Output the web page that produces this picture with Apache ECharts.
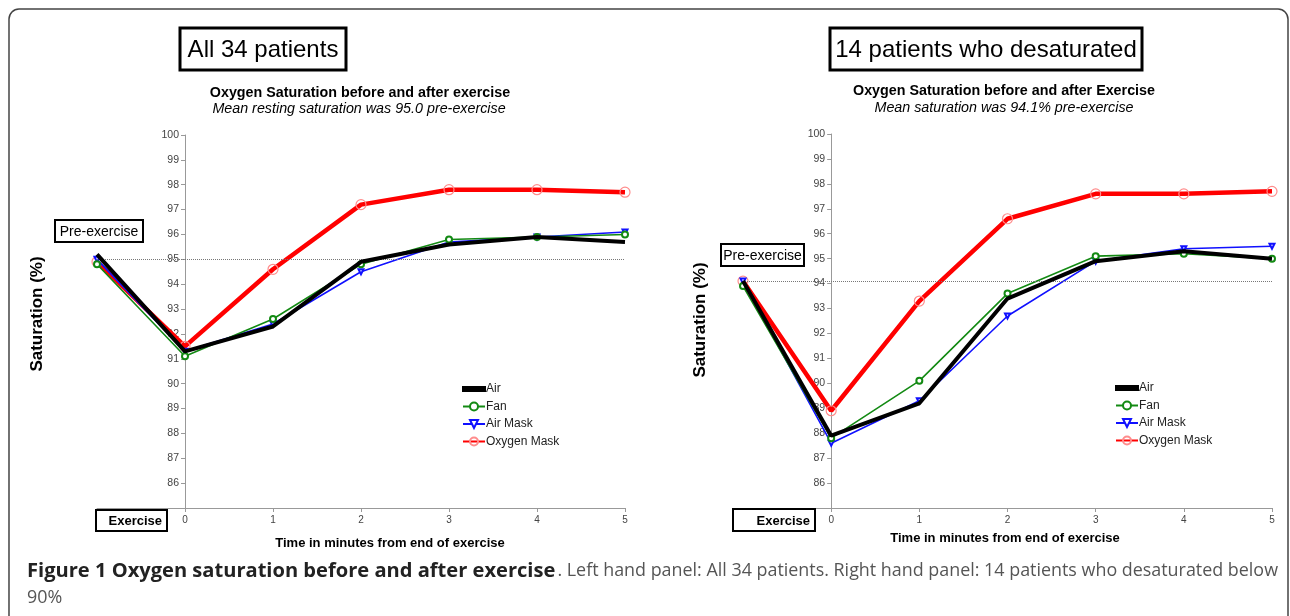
<!DOCTYPE html>
<html>
<head>
<meta charset="utf-8">
<script src="https://cdn.jsdelivr.net/npm/echarts@6/dist/echarts.min.js"></script>
<style>
  html, body { margin: 0; padding: 0; background: #fff; }
  #chart { width: 1290px; height: 616px; }
</style>
</head>
<body>
<div id="chart"></div>
<script>
// Minutes from end of exercise; -1 stands for the pre-exercise reading
const minutes = [-1, 0, 1, 2, 3, 4, 5];
const xTickValues = [0, 1, 2, 3, 4, 5];
const yTickValues = [86, 87, 88, 89, 90, 91, 92, 93, 94, 95, 96, 97, 98, 99, 100];
const seriesNames = ['Air', 'Fan', 'Air Mask', 'Oxygen Mask'];

// All 34 patients
const allAir = [95.2, 91.3, 92.3, 94.9, 95.6, 95.9, 95.7];
const allFan = [94.8, 91.1, 92.6, 94.8, 95.8, 95.9, 96.0];
const allAirMask = [95.0, 91.3, 92.4, 94.5, 95.7, 95.9, 96.1];
const allOxygenMask = [94.9, 91.5, 94.6, 97.2, 97.8, 97.8, 97.7];
const allMeanPre = 95.0;

// 14 patients who desaturated
const desatAir = [94.1, 87.9, 89.2, 93.4, 94.9, 95.3, 95.0];
const desatFan = [93.9, 87.8, 90.1, 93.6, 95.1, 95.2, 95.0];
const desatAirMask = [94.1, 87.6, 89.3, 92.7, 94.9, 95.4, 95.5];
const desatOxygenMask = [94.1, 88.9, 93.3, 96.6, 97.6, 97.6, 97.7];
const desatMeanPre = 94.1;

const FONT = '"Liberation Sans", Arial, sans-serif';
const CAPTION_FONT = '"Open Sans", sans-serif';

const grids = [
  { left: 97, top: 135, width: 528, height: 373 },
  { left: 743, top: 134, width: 529, height: 374 }
];

function pairs(values) {
  return values.map((v, i) => [minutes[i], v]);
}

const styles = {
  'Air': { color: '#000', width: 4, symbol: 'none', symbolSize: 0 },
  'Fan': { color: '#138a13', width: 1.6, symbol: 'emptyCircle', symbolSize: 6 },
  'Air Mask': { color: '#1010ff', width: 1.6, symbol: 'emptyTriangle', symbolSize: 5, rotate: 180 },
  'Oxygen Mask': { color: '#ff0000', width: 4.5, symbol: 'circle', symbolSize: 10 }
};

function makeSeries(name, values, gridIndex, meanPre) {
  const s = styles[name];
  const series = {
    name: name,
    type: 'line',
    xAxisIndex: gridIndex,
    yAxisIndex: gridIndex,
    data: pairs(values),
    symbol: s.symbol,
    symbolSize: s.symbolSize,
    symbolRotate: s.rotate || 0,
    showSymbol: s.symbol !== 'none',
    lineStyle: { color: s.color, width: s.width },
    itemStyle: name === 'Oxygen Mask'
      ? { color: 'rgba(255,255,255,0)', borderColor: '#ff8c8c', borderWidth: 1.2 }
      : { color: s.color, borderColor: s.color, borderWidth: 1.2 },
    emphasis: { disabled: true },
    silent: true,
    z: name === 'Air' ? 5 : (name === 'Oxygen Mask' ? 2 : 3)
  };
  if (meanPre !== undefined) {
    // dotted line at the mean pre-exercise saturation
    series.markLine = {
      silent: true,
      symbol: ['none', 'none'],
      label: { show: false },
      lineStyle: { type: 'dotted', color: '#777', width: 1 },
      data: [[{ coord: [minutes[0], meanPre] }, { coord: [minutes[minutes.length - 1], meanPre] }]]
    };
  }
  return series;
}

function xAxisFor(gridIndex) {
  return {
    type: 'value', gridIndex: gridIndex, min: -1, max: 5, interval: 1,
    axisLine: { onZero: false, lineStyle: { color: '#999', width: 1 } },
    axisTick: { show: true, length: 4, customValues: xTickValues, lineStyle: { color: '#999' } },
    axisLabel: { customValues: xTickValues, color: '#444', fontSize: 10, fontFamily: FONT, margin: 7 },
    splitLine: { show: false }
  };
}

function yAxisFor(gridIndex) {
  // the saturation axis stands at minute 0, one x-step in from the grid's left edge
  const g = grids[gridIndex];
  return {
    type: 'value', gridIndex: gridIndex, min: 85, max: 100, interval: 1,
    position: 'left',
    offset: -g.width / 6,
    axisLine: { show: true, onZero: false, lineStyle: { color: '#999', width: 1 } },
    axisTick: { show: true, length: 4, customValues: yTickValues, lineStyle: { color: '#999' } },
    axisLabel: { customValues: yTickValues, color: '#444', fontSize: 10.5, fontFamily: FONT, margin: 6 },
    splitLine: { show: false }
  };
}

function boxedText(x, y, w, h, lw, text, fontSize, bold, align) {
  return [{
    type: 'rect', shape: { x: x, y: y, width: w, height: h },
    style: { fill: '#fff', stroke: '#000', lineWidth: lw }, z: 10
  }, {
    type: 'text', x: align === 'right' ? x + w - 5 : x + w / 2, y: y + h / 2 + 1, z: 11,
    style: {
      text: text, fill: '#000', font: (bold ? 'bold ' : '') + fontSize + 'px ' + FONT,
      textAlign: align || 'center', textVerticalAlign: 'middle'
    }
  }];
}

function plainText(x, y, text, font, fill, align, rotation) {
  return {
    type: 'text', x: x, y: y, rotation: rotation || 0, z: 11,
    style: { text: text, font: font, fill: fill || '#000', textAlign: align || 'center', textVerticalAlign: 'middle' }
  };
}

const graphics = [].concat(
  [{
    type: 'rect', shape: { x: 9, y: 9, width: 1279, height: 700, r: 10 },
    style: { fill: 'none', stroke: '#444', lineWidth: 1.5 }, z: 0
  }],
  boxedText(180, 28, 166, 42, 3, 'All 34 patients', 24, false),
  boxedText(830, 28, 312, 42, 3, '14 patients who desaturated', 24, false),
  [
    plainText(360, 93, 'Oxygen Saturation before and after exercise', 'bold 14.3px ' + FONT),
    plainText(359, 109, 'Mean resting saturation was 95.0 pre-exercise', 'italic 14.3px ' + FONT),
    plainText(1004, 91, 'Oxygen Saturation before and after Exercise', 'bold 14.3px ' + FONT),
    plainText(1004, 108, 'Mean saturation was 94.1% pre-exercise', 'italic 14.3px ' + FONT),
    plainText(37, 314, 'Saturation (%)', 'bold 17px ' + FONT, '#000', 'center', Math.PI / 2),
    plainText(700, 320, 'Saturation (%)', 'bold 17px ' + FONT, '#000', 'center', Math.PI / 2),
    plainText(390, 543, 'Time in minutes from end of exercise', 'bold 13px ' + FONT),
    plainText(1005, 538, 'Time in minutes from end of exercise', 'bold 13px ' + FONT)
  ],
  boxedText(55, 220, 88, 22, 2, 'Pre-exercise', 14, false),
  boxedText(721, 244, 83, 22, 2, 'Pre-exercise', 14, false),
  boxedText(96, 510, 71, 21, 2, 'Exercise', 13, true, 'right'),
  boxedText(733, 509, 82, 22, 2, 'Exercise', 13, true, 'right'),
  [
    plainText(27, 571, 'Figure 1 Oxygen saturation before and after exercise', 'bold 20.1px ' + CAPTION_FONT, '#222', 'left'),
    plainText(1278, 571, '. Left hand panel: All 34 patients. Right hand panel: 14 patients who desaturated below', '17.9px ' + CAPTION_FONT, '#555', 'right'),
    plainText(27, 598, '90%', '17.9px ' + CAPTION_FONT, '#555', 'left')
  ]
);

// the thick Air line is keyed by a plain bar, the others by line + marker
const legendData = seriesNames.map(n => n === 'Air'
  ? { name: n, icon: 'path://M0,0M0,3H22V7H0ZM22,10' }
  : { name: n });

function legendFor(left, top) {
  return {
    data: legendData, orient: 'vertical', left: left, top: top,
    itemWidth: 22, itemHeight: 10, itemGap: 5.5, selectedMode: false,
    textStyle: { fontSize: 12, fontFamily: FONT, color: '#222', padding: [0, 0, 0, -4] }
  };
}

const chart = echarts.init(document.getElementById('chart'), null, { renderer: 'canvas' });
chart.setOption({
  animation: false,
  backgroundColor: '#fff',
  grid: grids,
  xAxis: [xAxisFor(0), xAxisFor(1)],
  yAxis: [yAxisFor(0), yAxisFor(1)],
  legend: [legendFor(457, 378), legendFor(1110, 377)],
  series: [
    makeSeries('Oxygen Mask', allOxygenMask, 0),
    makeSeries('Air Mask', allAirMask, 0),
    makeSeries('Fan', allFan, 0),
    makeSeries('Air', allAir, 0, allMeanPre),
    makeSeries('Oxygen Mask', desatOxygenMask, 1),
    makeSeries('Air Mask', desatAirMask, 1),
    makeSeries('Fan', desatFan, 1),
    makeSeries('Air', desatAir, 1, desatMeanPre)
  ],
  graphic: graphics
});
</script>
</body>
</html>
